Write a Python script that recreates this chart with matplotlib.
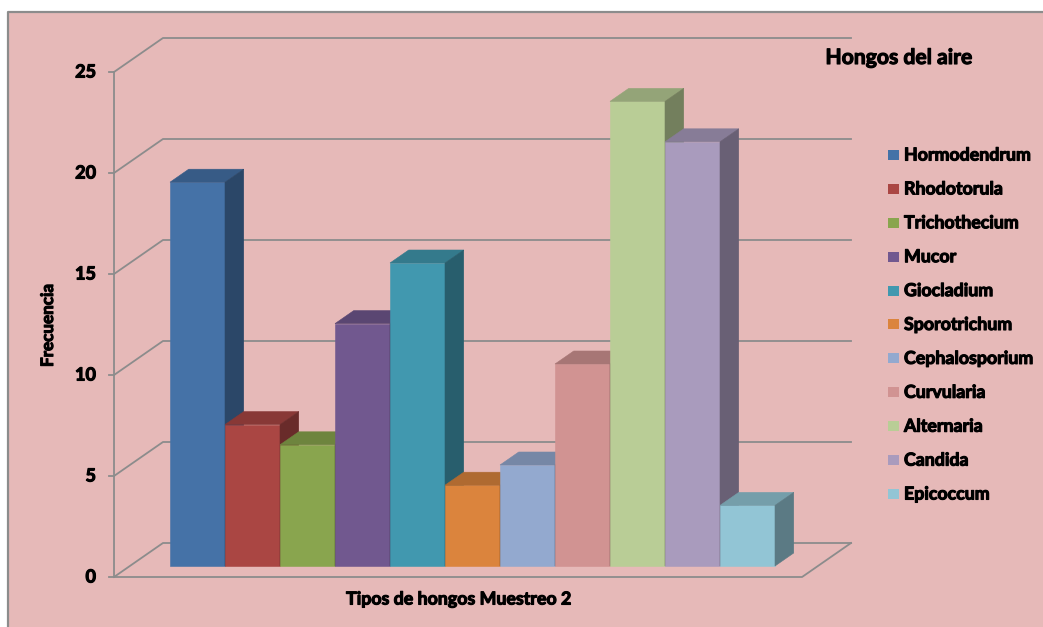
import matplotlib.pyplot as plt
import matplotlib.patheffects as pe
from matplotlib.patches import Polygon, Rectangle
from matplotlib.lines import Line2D
from matplotlib.colors import to_rgb

# datos del muestreo 2
hongos = ['Hormodendrum', 'Rhodotorula', 'Trichothecium', 'Mucor', 'Giocladium',
          'Sporotrichum', 'Cephalosporium', 'Curvularia', 'Alternaria', 'Candida',
          'Epicoccum']
frecuencia = [19, 7, 6, 12, 15, 4, 5, 10, 23, 21, 3]
colores = ['#4572A7', '#AA4643', '#89A54E', '#71588F', '#4198AF', '#DB843D',
           '#93A9CF', '#D19392', '#B9CD96', '#A99BBD', '#92C5D5']
yticks = [0, 5, 10, 15, 20, 25]

plt.rcParams['font.family'] = ['Lato', 'DejaVu Sans']
# texto en negrita algo mas grueso
grueso = dict(fontweight='bold', path_effects=[pe.withStroke(linewidth=0.8, foreground='black')])

W, H = 1043, 627
fig = plt.figure(figsize=(W / 100, H / 100), dpi=100)
fig.patch.set_facecolor('white')

# fondo rosado con borde gris a la izquierda y arriba
rosa = '#E6B9B8'
fig.patches.append(Rectangle((8 / W, 0), 1 - 8 / W, 1 - 12 / H, transform=fig.transFigure,
                             facecolor=rosa, edgecolor='none', zorder=-2))
fig.lines.append(Line2D([8 / W, 8 / W, 1], [0, 1 - 12 / H, 1 - 12 / H], transform=fig.transFigure,
                        color='#8C8C8C', lw=1.6, zorder=-1))

# escala: pixeles por categoria y por unidad de frecuencia
UX, UY = 55.0, 20.2
x0_px, y0_px = 197.5, 566.0
ax = fig.add_axes([0, 0, 1, 1])
ax.set_xlim(-x0_px / UX, (W - x0_px) / UX)
ax.set_ylim(-(H - y0_px) / UY, y0_px / UY)
ax.axis('off')

# proyeccion oblicua: profundidad en pixeles
kx, ky = 1.44 / UX, 1.0 / UY


def proj(x, y, d):
    return (x + d * kx, y + d * ky)


d_front, d_back = -11, 23      # plano del eje y pared de fondo
b_front, b_back = 0, 13        # profundidad de las barras
x_izq, x_der = -1.23, 11.28
gris = '#8C8C8C'

# lineas de cuadricula (piso y pared)
for v in yticks:
    p = [proj(x_izq, v, d_front), proj(x_izq, v, d_back), proj(x_der, v, d_back)]
    ax.plot([q[0] for q in p], [q[1] for q in p], color=gris, lw=1.3, zorder=1)
    tx, ty = proj(x_izq, v, d_front)
    ax.plot([tx - 5 / UX, tx], [ty, ty], color=gris, lw=1.3, zorder=1)
    ax.annotate(str(v), (tx, ty), xytext=(-18 * 0.72, 0), textcoords='offset points',
                ha='right', va='center', fontsize=13, **grueso)

# borde frontal del piso y eje vertical
p = [proj(x_izq, 25, d_front), proj(x_izq, 0, d_front), proj(x_der, 0, d_front),
     proj(x_der, 0, d_back)]
ax.plot([q[0] for q in p], [q[1] for q in p], color=gris, lw=1.3, zorder=1)


def tono(c, f):
    r, g, b = to_rgb(c)
    return (r * f, g * f, b * f)


# barras 3D, de izquierda a derecha
for i, (v, c) in enumerate(zip(frecuencia, colores)):
    xl, xr = i - 0.5, i + 0.5
    frente = [proj(xl, 0, b_front), proj(xr, 0, b_front), proj(xr, v, b_front), proj(xl, v, b_front)]
    techo = [proj(xl, v, b_front), proj(xr, v, b_front), proj(xr, v, b_back), proj(xl, v, b_back)]
    lado = [proj(xr, 0, b_front), proj(xr, 0, b_back), proj(xr, v, b_back), proj(xr, v, b_front)]
    for pts, f in ((frente, 1.0), (techo, 0.8), (lado, 0.62)):
        col = tono(c, f)
        ax.add_patch(Polygon(pts, closed=True, facecolor=col, edgecolor=col, lw=0.4, zorder=2))

# leyenda
for i, (nombre, c) in enumerate(zip(hongos, colores)):
    yc = 155 + i * 33.9
    fig.patches.append(Rectangle((888 / W, 1 - (yc + 5) / H), 11 / W, 10 / H,
                                 transform=fig.transFigure, facecolor=c, edgecolor='none'))
    fig.text(904 / W, 1 - yc / H, nombre, ha='left', va='center', fontsize=12.8, **grueso)

fig.text(899 / W, 1 - 58 / H, 'Hongos del aire', ha='center', va='center', fontsize=15.2,
         **grueso)
fig.text(48 / W, 1 - 325 / H, 'Frecuencia', ha='center', va='center', rotation=90,
         fontsize=12.3, **grueso)
fig.text(459 / W, 1 - 599 / H, 'Tipos de hongos Muestreo 2', ha='center', va='center',
         fontsize=12.8, **grueso)

fig.savefig('out.png', dpi=100)
